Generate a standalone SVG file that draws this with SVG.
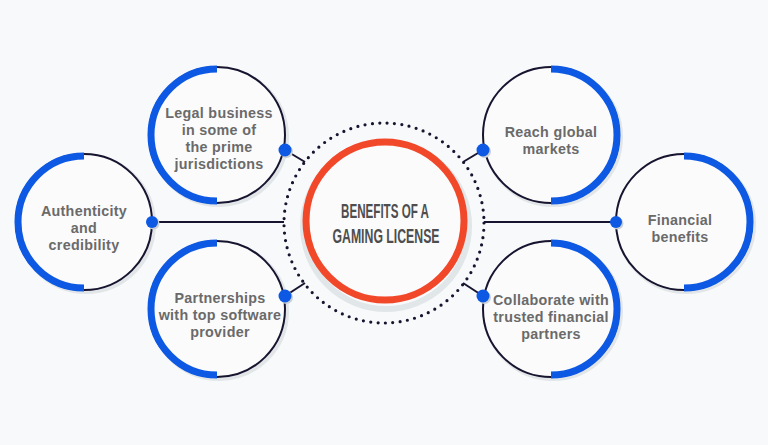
<svg xmlns="http://www.w3.org/2000/svg" width="768" height="445" viewBox="0 0 768 445">
<defs>
<style>
.bg{fill:#f8f9fa}
.shadow{fill:none;stroke:#e2e6e9;stroke-width:4}
.face{fill:#fbfbfc}
.thin{fill:none;stroke:#17142f;stroke-width:2}
.arc{fill:none;stroke:#0d59e3;stroke-width:7}
.dot{fill:#0d59e3}
.dotsh{fill:#c9d0d6}
.conn{stroke:#17142f;stroke-width:2;fill:none}
.lbl{font-family:"Liberation Sans",Arial,sans-serif;font-weight:bold;font-size:14.3px;fill:#6a6a6a;text-anchor:middle;letter-spacing:0.3px}
.ttl{font-family:"Liberation Sans",Arial,sans-serif;font-weight:bold;font-size:20px;fill:#4e4e4e;text-anchor:middle}
</style>
</defs>
<rect class="bg" x="0" y="0" width="768" height="445"/>

<g id="connectors">
<line class="conn" x1="285" y1="150" x2="305" y2="162"/>
<line class="conn" x1="152" y1="222" x2="284" y2="222"/>
<line class="conn" x1="285" y1="296" x2="305" y2="283"/>
<line class="conn" x1="483" y1="150" x2="463" y2="162"/>
<line class="conn" x1="616" y1="222" x2="484" y2="222"/>
<line class="conn" x1="483" y1="296" x2="463" y2="283"/>
</g>

<g id="center">
<circle cx="384" cy="223" r="100" fill="none" stroke="#17142f" stroke-width="3.2" stroke-linecap="round" stroke-dasharray="0 7.4"/>
<circle cx="386" cy="226" r="83" fill="none" stroke="#e1e6e9" stroke-width="6"/>
<circle cx="385" cy="221" r="79" fill="#fbfbfc" stroke="#f2482a" stroke-width="7"/>
<text class="ttl" x="385" y="218" textLength="88" lengthAdjust="spacingAndGlyphs">BENEFITS OF A</text>
<text class="ttl" x="386" y="243" textLength="107" lengthAdjust="spacingAndGlyphs">GAMING LICENSE</text>
</g>

<g id="node-legal">
<circle class="shadow" cx="219" cy="137" r="68"/>
<circle class="face" cx="217" cy="135" r="67"/>
<circle class="thin" cx="217" cy="135" r="68"/>
<path class="arc" d="M217,69 A66,66 0 0 0 217,201"/>
<circle class="dotsh" cx="286.5" cy="151.5" r="6.5"/>
<circle class="dot" cx="285" cy="150" r="6.5"/>
<text class="lbl" x="219" y="118">Legal business</text>
<text class="lbl" x="219" y="135">in some of</text>
<text class="lbl" x="219" y="152">the prime</text>
<text class="lbl" x="219" y="169">jurisdictions</text>
</g>

<g id="node-authenticity">
<circle class="shadow" cx="86" cy="224" r="68"/>
<circle class="face" cx="84" cy="222" r="67"/>
<circle class="thin" cx="84" cy="222" r="68"/>
<path class="arc" d="M84,156 A66,66 0 0 0 84,288"/>
<circle class="dotsh" cx="153.5" cy="223.5" r="6"/>
<circle class="dot" cx="152" cy="222" r="6"/>
<text class="lbl" x="84" y="216">Authenticity</text>
<text class="lbl" x="84" y="233">and</text>
<text class="lbl" x="84" y="250">credibility</text>
</g>

<g id="node-partnerships">
<circle class="shadow" cx="219" cy="311" r="68"/>
<circle class="face" cx="217" cy="309" r="67"/>
<circle class="thin" cx="217" cy="309" r="68"/>
<path class="arc" d="M217,243 A66,66 0 0 0 217,375"/>
<circle class="dotsh" cx="286.5" cy="297.5" r="6.5"/>
<circle class="dot" cx="285" cy="296" r="6.5"/>
<text class="lbl" x="220" y="303">Partnerships</text>
<text class="lbl" x="220" y="320">with top software</text>
<text class="lbl" x="220" y="337">provider</text>
</g>

<g id="node-reach">
<circle class="shadow" cx="553" cy="137" r="68"/>
<circle class="face" cx="551" cy="135" r="67"/>
<circle class="thin" cx="551" cy="135" r="68"/>
<path class="arc" d="M551,69 A66,66 0 0 1 551,201"/>
<circle class="dotsh" cx="484.5" cy="151.5" r="6.5"/>
<circle class="dot" cx="483" cy="150" r="6.5"/>
<text class="lbl" x="551" y="137">Reach global</text>
<text class="lbl" x="551" y="154">markets</text>
</g>

<g id="node-financial">
<circle class="shadow" cx="686" cy="224" r="68"/>
<circle class="face" cx="684" cy="222" r="67"/>
<circle class="thin" cx="684" cy="222" r="68"/>
<path class="arc" d="M684,156 A66,66 0 0 1 684,288"/>
<circle class="dotsh" cx="617.5" cy="223.5" r="6"/>
<circle class="dot" cx="616" cy="222" r="6"/>
<text class="lbl" x="680" y="225">Financial</text>
<text class="lbl" x="680" y="242">benefits</text>
</g>

<g id="node-collaborate">
<circle class="shadow" cx="553" cy="311" r="68"/>
<circle class="face" cx="551" cy="309" r="67"/>
<circle class="thin" cx="551" cy="309" r="68"/>
<path class="arc" d="M551,243 A66,66 0 0 1 551,375"/>
<circle class="dotsh" cx="484.5" cy="297.5" r="6.5"/>
<circle class="dot" cx="483" cy="296" r="6.5"/>
<text class="lbl" x="551" y="305">Collaborate with</text>
<text class="lbl" x="551" y="322">trusted financial</text>
<text class="lbl" x="551" y="339">partners</text>
</g>
</svg>
